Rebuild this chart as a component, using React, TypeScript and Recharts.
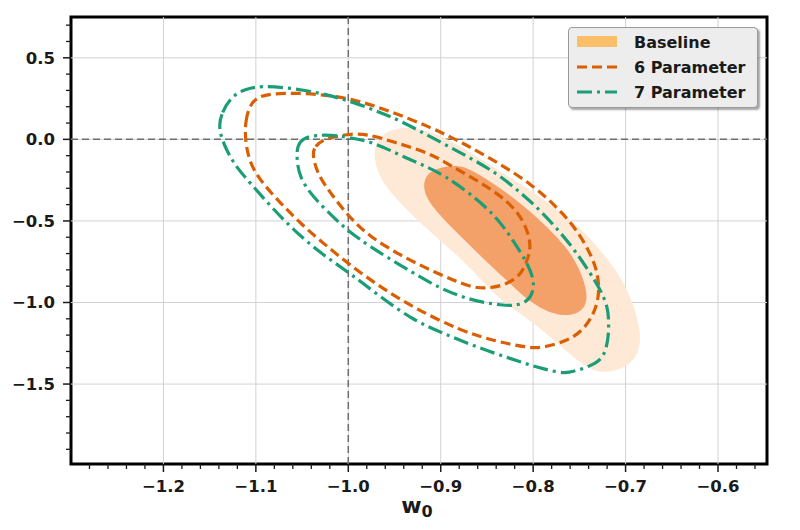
import React from 'react';
import {
  ScatterChart,
  Scatter,
  XAxis,
  YAxis,
  ReferenceLine,
  ReferenceArea,
} from 'recharts';

type Pt = [number, number];

// Baseline filled contours (outer = 95%, inner = 68%)
const baselineOuter: Pt[] = [
  [-0.973, -0.110], [-0.970, -0.020], [-0.960, 0.045], [-0.944, 0.073], [-0.922, 0.070],
  [-0.890, 0.000], [-0.846, -0.159], [-0.803, -0.312], [-0.749, -0.527], [-0.711, -0.790],
  [-0.695, -0.955], [-0.684, -1.151], [-0.684, -1.292], [-0.695, -1.384], [-0.717, -1.433],
  [-0.740, -1.420], [-0.771, -1.261], [-0.803, -1.110], [-0.825, -1.029], [-0.850, -0.906],
  [-0.868, -0.784], [-0.897, -0.637], [-0.922, -0.514], [-0.947, -0.374], [-0.965, -0.251],
];

const baselineInner: Pt[] = [
  [-0.919, -0.263], [-0.913, -0.202], [-0.900, -0.171], [-0.884, -0.159], [-0.871, -0.171],
  [-0.836, -0.294], [-0.800, -0.453], [-0.763, -0.661], [-0.749, -0.802], [-0.742, -0.925],
  [-0.742, -1.004], [-0.749, -1.066], [-0.771, -1.090], [-0.800, -1.017], [-0.825, -0.882],
  [-0.850, -0.753], [-0.882, -0.576], [-0.906, -0.435], [-0.917, -0.343],
];

// 6 Parameter contours
const sixOuter: Pt[] = [
  [-1.112, 0.012], [-1.111, 0.116], [-1.107, 0.208], [-1.098, 0.260], [-1.084, 0.280],
  [-1.052, 0.286], [-1.001, 0.260], [-0.958, 0.180], [-0.911, 0.075], [-0.876, -0.022],
  [-0.839, -0.140], [-0.803, -0.269], [-0.774, -0.416], [-0.752, -0.557], [-0.734, -0.741],
  [-0.729, -0.863], [-0.729, -0.967], [-0.734, -1.066], [-0.746, -1.172], [-0.763, -1.235],
  [-0.789, -1.278], [-0.806, -1.278], [-0.843, -1.234], [-0.879, -1.172], [-0.930, -1.030],
  [-0.965, -0.906], [-0.998, -0.772], [-1.027, -0.637], [-1.052, -0.514], [-1.073, -0.392],
  [-1.093, -0.269], [-1.107, -0.147],
];

const sixInner: Pt[] = [
  [-1.039, -0.086], [-1.036, -0.043], [-1.028, -0.004], [-1.012, 0.020], [-0.998, 0.033],
  [-0.979, 0.033], [-0.951, -0.016], [-0.911, -0.086], [-0.890, -0.159], [-0.857, -0.263],
  [-0.828, -0.374], [-0.810, -0.496], [-0.802, -0.637], [-0.805, -0.723], [-0.811, -0.802],
  [-0.817, -0.847], [-0.832, -0.896], [-0.850, -0.914], [-0.868, -0.908], [-0.904, -0.821],
  [-0.940, -0.723], [-0.976, -0.600], [-0.998, -0.484], [-1.019, -0.331], [-1.034, -0.208],
];

// 7 Parameter contours
const sevenOuter: Pt[] = [
  [-1.141, 0.067], [-1.137, 0.165], [-1.126, 0.266], [-1.111, 0.310], [-1.093, 0.328],
  [-1.062, 0.315], [-1.030, 0.284], [-1.001, 0.240], [-0.971, 0.178], [-0.944, 0.116],
  [-0.908, 0.006], [-0.873, -0.098], [-0.839, -0.208], [-0.814, -0.325], [-0.792, -0.435],
  [-0.760, -0.637], [-0.738, -0.821], [-0.727, -0.925], [-0.719, -1.029], [-0.718, -1.139],
  [-0.719, -1.231], [-0.723, -1.323], [-0.731, -1.370], [-0.746, -1.406], [-0.762, -1.431],
  [-0.771, -1.431], [-0.796, -1.398], [-0.825, -1.343], [-0.860, -1.276], [-0.897, -1.190],
  [-0.930, -1.108], [-0.965, -0.967], [-0.998, -0.821], [-1.030, -0.698], [-1.059, -0.557],
  [-1.084, -0.410], [-1.106, -0.269], [-1.121, -0.171], [-1.132, -0.067],
];

const sevenInner: Pt[] = [
  [-1.056, -0.110], [-1.055, -0.037], [-1.049, 0.008], [-1.035, 0.026], [-1.019, 0.026],
  [-1.001, 0.014], [-0.973, -0.016], [-0.944, -0.098], [-0.911, -0.178], [-0.897, -0.220],
  [-0.868, -0.331], [-0.839, -0.478], [-0.822, -0.618], [-0.806, -0.759], [-0.799, -0.863],
  [-0.800, -0.937], [-0.806, -0.994], [-0.819, -1.019], [-0.832, -1.019], [-0.868, -0.988],
  [-0.904, -0.906], [-0.940, -0.784], [-0.976, -0.661], [-1.001, -0.557], [-1.016, -0.478],
  [-1.038, -0.355], [-1.053, -0.233],
];

const xTicks = [-1.2, -1.1, -1.0, -0.9, -0.8, -0.7, -0.6];
const yTicks = [-1.5, -1.0, -0.5, 0.0, 0.5];
const xMinorTicks = [
  -1.28, -1.26, -1.24, -1.22, -1.18, -1.16, -1.14, -1.12, -1.08, -1.06, -1.04, -1.02,
  -0.98, -0.96, -0.94, -0.92, -0.88, -0.86, -0.84, -0.82, -0.78, -0.76, -0.74, -0.72,
  -0.68, -0.66, -0.64, -0.62, -0.58, -0.56,
];
const yMinorTicks = [
  -1.9, -1.8, -1.7, -1.6, -1.4, -1.3, -1.2, -1.1, -0.9, -0.8, -0.7, -0.6,
  -0.4, -0.3, -0.2, -0.1, 0.1, 0.2, 0.3, 0.4, 0.6, 0.7,
];

const X_DOMAIN: [number, number] = [-1.3, -0.547];
const Y_DOMAIN: [number, number] = [-1.99, 0.75];

const ORANGE = '#d95f02';
const GREEN = '#1b9e77';
const INK = '#1a1a1a';
const GRID = '#d2d2d2';
const FONT = '"DejaVu Sans", sans-serif';
const LINE_W = 3.2;
const DASH = '10 5';
const DASHDOT = '15 5 3 5';

const toXY = (pts: Pt[]) => pts.map(([x, y]) => ({ x, y }));
const fmt = (v: number) => v.toFixed(1).replace('-', '\u2212');
const noDot = () => <g />;
const isMajor = (list: number[], v: number) => list.some((m) => Math.abs(m - v) < 1e-9);

const allXTicks = [...xMinorTicks, ...xTicks].sort((a, b) => a - b);
const allYTicks = [...yMinorTicks, ...yTicks].sort((a, b) => a - b);

// (x, y) is the point on the axis, since tickSize and tickMargin are 0
const XTick = ({ x, y, payload }: any) =>
  isMajor(xTicks, payload.value) ? (
    <g>
      <line x1={x} x2={x} y1={y} y2={y + 8} stroke={INK} strokeWidth={1.5} />
      <text x={x} y={y + 16} dy="0.71em" textAnchor="middle" fontFamily={FONT} fontWeight="bold" fontSize={16.5} fill={INK}>
        {fmt(payload.value)}
      </text>
    </g>
  ) : (
    <line x1={x} x2={x} y1={y} y2={y + 5} stroke={INK} strokeWidth={1.3} />
  );

const YTick = ({ x, y, payload }: any) =>
  isMajor(yTicks, payload.value) ? (
    <g>
      <line x1={x - 8} x2={x} y1={y} y2={y} stroke={INK} strokeWidth={1.5} />
      <text x={x - 16} y={y} dy="0.36em" textAnchor="end" fontFamily={FONT} fontWeight="bold" fontSize={16.5} fill={INK}>
        {fmt(payload.value)}
      </text>
    </g>
  ) : (
    <line x1={x - 5} x2={x} y1={y} y2={y} stroke={INK} strokeWidth={1.3} />
  );

const W0Label = (props: any) => {
  const vb = props.viewBox || { x: 0, y: 0, width: 0 };
  return (
    <text
      x={vb.x + vb.width / 2 - 2}
      y={vb.y + 49}
      textAnchor="middle"
      fontFamily={FONT}
      fontWeight="bold"
      fontSize={22}
      fill={INK}
    >
      w<tspan dy={4} fontSize={16}>0</tspan>
    </text>
  );
};

const Legend = () => (
  <div
    style={{
      position: 'absolute',
      left: 560,
      top: 19,
      width: 188,
      height: 79,
      background: '#ededed',
      border: '1px solid #9a9a9a',
      borderRadius: 4,
      boxShadow: '2px 2px 2px rgba(0,0,0,0.35)',
      fontFamily: FONT,
      fontWeight: 'bold',
      fontSize: 16,
      color: INK,
    }}
  >
    {[
      { label: 'Baseline', kind: 'fill' },
      { label: '6 Parameter', kind: 'dash' },
      { label: '7 Parameter', kind: 'dashdot' },
    ].map((e, i) => (
      <div
        key={e.label}
        style={{ position: 'absolute', left: 7, top: 3 + i * 25, height: 22, display: 'flex', alignItems: 'center' }}
      >
        <svg width={42} height={22}>
          {e.kind === 'fill' && <rect x={1} y={5} width={40} height={11} fill="#fbbf69" />}
          {e.kind === 'dash' && (
            <line x1={1} x2={41} y1={11} y2={11} stroke={ORANGE} strokeWidth={LINE_W} strokeDasharray={DASH} />
          )}
          {e.kind === 'dashdot' && (
            <line x1={1} x2={41} y1={11} y2={11} stroke={GREEN} strokeWidth={LINE_W} strokeDasharray={DASHDOT} />
          )}
        </svg>
        <span style={{ marginLeft: 16 }}>{e.label}</span>
      </div>
    ))}
  </div>
);

export default function App() {
  return (
    <div style={{ position: 'relative', width: 784, height: 514 }}>
      <ScatterChart width={784} height={514} margin={{ top: 9, right: 25, bottom: 28, left: 0 }}>
        <XAxis
          type="number"
          dataKey="x"
          domain={X_DOMAIN}
          allowDataOverflow
          ticks={allXTicks}
          interval={0}
          tick={XTick}
          tickSize={0}
          tickMargin={0}
          tickLine={false}
          axisLine={false}
          height={30}
          label={W0Label}
        />
        <YAxis
          type="number"
          dataKey="y"
          domain={Y_DOMAIN}
          allowDataOverflow
          ticks={allYTicks}
          interval={0}
          tick={YTick}
          tickSize={0}
          tickMargin={0}
          tickLine={false}
          axisLine={false}
          width={63}
        />

        {/* grid at the major ticks */}
        {xTicks.map((v) => (
          <ReferenceLine key={`gx${v}`} x={v} stroke={GRID} strokeWidth={1} />
        ))}
        {yTicks.map((v) => (
          <ReferenceLine key={`gy${v}`} y={v} stroke={GRID} strokeWidth={1} />
        ))}

        <Scatter
          data={toXY(baselineOuter)}
          shape={noDot}
          line={{ fill: '#fde9d5', stroke: 'none' }}
          lineJointType="basisClosed"
          isAnimationActive={false}
        />
        <Scatter
          data={toXY(baselineInner)}
          shape={noDot}
          line={{ fill: '#f3a069', stroke: 'none' }}
          lineJointType="basisClosed"
          isAnimationActive={false}
        />

        <ReferenceLine x={-1.0} stroke="#6e6e6e" strokeWidth={1.5} strokeDasharray="7 4" />
        <ReferenceLine y={0} stroke="#6e6e6e" strokeWidth={1.5} strokeDasharray="7 4" />

        <Scatter
          data={toXY(sixOuter)}
          shape={noDot}
          line={{ stroke: ORANGE, strokeWidth: LINE_W, strokeDasharray: DASH, fill: 'none' }}
          lineJointType="basisClosed"
          isAnimationActive={false}
        />
        <Scatter
          data={toXY(sixInner)}
          shape={noDot}
          line={{ stroke: ORANGE, strokeWidth: LINE_W, strokeDasharray: DASH, fill: 'none' }}
          lineJointType="basisClosed"
          isAnimationActive={false}
        />
        <Scatter
          data={toXY(sevenOuter)}
          shape={noDot}
          line={{ stroke: GREEN, strokeWidth: LINE_W, strokeDasharray: DASHDOT, fill: 'none' }}
          lineJointType="basisClosed"
          isAnimationActive={false}
        />
        <Scatter
          data={toXY(sevenInner)}
          shape={noDot}
          line={{ stroke: GREEN, strokeWidth: LINE_W, strokeDasharray: DASHDOT, fill: 'none' }}
          lineJointType="basisClosed"
          isAnimationActive={false}
        />

        <ReferenceArea
          x1={X_DOMAIN[0]}
          x2={X_DOMAIN[1]}
          y1={Y_DOMAIN[0]}
          y2={Y_DOMAIN[1]}
          fill="none"
          fillOpacity={0}
          stroke="#000"
          strokeWidth={3}
        />
      </ScatterChart>
      <Legend />
    </div>
  );
}
